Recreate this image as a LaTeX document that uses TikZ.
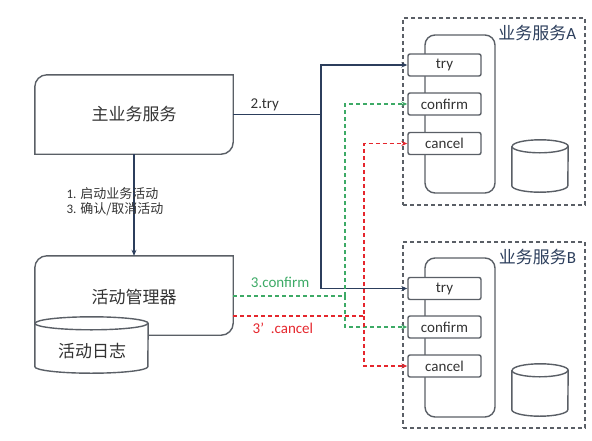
\documentclass[tikz,border=0pt]{standalone}
\usepackage{fontspec}
\setmainfont{Carlito}
\newfontfamily\cjk{Noto Sans CJK SC}
\usetikzlibrary{positioning, arrows.meta, shapes.geometric, calc}
\definecolor{linegray}{HTML}{5A5F66}
\definecolor{navy}{HTML}{2C3E5C}
\definecolor{okgreen}{HTML}{3DAA66}
\definecolor{errred}{HTML}{E5262D}
\definecolor{txt}{HTML}{333333}
\tikzset{
  edge/.style   ={draw=linegray, line width=1.4pt},
  bigbox/.style ={minimum width=198pt, minimum height=79pt, inner sep=0pt,
                  font=\cjk\fontsize{17}{20}\selectfont, text=txt},
  db/.style     ={inner sep=0pt, text=txt},
  zone/.style   ={draw=linegray, dash pattern=on 4pt off 3pt, line width=1.5pt,
                  minimum width=182pt, minimum height=187pt},
  svc/.style    ={edge, rounded corners=10pt,
                  minimum width=70pt, minimum height=158pt},
  op/.style     ={edge, rounded corners=2pt, fill=white,
                  minimum width=73pt, minimum height=22pt, inner sep=0pt,
                  font=\fontsize{15}{17}\selectfont, text=txt},
  flow/.style   ={-{Stealth[length=6pt,width=5pt]}, draw=navy, line width=1.3pt},
  okflow/.style ={flow, draw=okgreen, dash pattern=on 4pt off 3pt},
  noflow/.style ={flow, draw=errred, dash pattern=on 4pt off 3pt},
  lbl/.style    ={font=\fontsize{15}{17}\selectfont},
}
% box with two rounded corners (top left, bottom right)
\newcommand\halfround[1]{%
  \draw[edge]
    ([yshift=-12pt]#1.north west) arc[start angle=180, end angle=90, radius=12pt]
    -- (#1.north east) -- ([yshift=12pt]#1.south east)
    arc[start angle=0, end angle=-90, radius=12pt] -- (#1.south west) -- cycle;}
% cylinder round a node: name, x radius, y radius of the ends
\newcommand\dbdraw[3]{%
  \draw[edge, fill=white]
    ([yshift=-#3]#1.north west) -- ([yshift=#3]#1.south west)
    arc[start angle=180, end angle=360, x radius=#2, y radius=#3]
    -- ([yshift=-#3]#1.north east)
    arc[start angle=0, end angle=180, x radius=#2, y radius=#3];
  \draw[edge] ([yshift=-#3]#1.north west)
    arc[start angle=180, end angle=360, x radius=#2, y radius=#3];}

\begin{document}
\begin{tikzpicture}[x=1pt, y=1pt]
  \useasboundingbox (0,0) rectangle (592,-440);

  % left side
  \node[bigbox] (main) at (134,-114.5) {主业务服务};
  \halfround{main}
  \node[bigbox] (mgr) at (134,-295.5) {};
  \halfround{mgr}
  \node[bigbox] (mgrtext) at (134,-297) {活动管理器};
  \node[db, minimum width=113pt, minimum height=56pt] (log) at (91.5,-345) {};
  \dbdraw{log}{56.5pt}{6.5pt}
  \node[font=\cjk\fontsize{17}{20}\selectfont, text=txt] (logtext) at (92,-351) {活动日志};

  % service A
  \node[zone] (zoneA) at (494,-111.5) {};
  \node[anchor=north east, text=navy, font=\fontsize{17}{20}\selectfont]
    (nameA) at ([xshift=-6pt,yshift=-4pt]zoneA.north east) {{\cjk 业务服务}A};
  \node[svc] (svcA) at (460,-114) {};
  \node[op] (tryA) at (444.5,-65) {try};
  \node[op] (confA) at (444.5,-104) {confirm};
  \node[op] (cancelA) at (444.5,-143.5) {cancel};
  \node[db, minimum width=56pt, minimum height=52pt] (dbA) at (540,-166) {};
  \dbdraw{dbA}{28pt}{6.5pt}

  % service B
  \node[zone, minimum height=186pt] (zoneB) at (494,-335) {};
  \node[anchor=north east, text=navy, font=\fontsize{17}{20}\selectfont]
    (nameB) at ([xshift=-6pt,yshift=-4pt]zoneB.north east) {{\cjk 业务服务}B};
  \node[svc, minimum height=159pt] (svcB) at (460,-337.5) {};
  \node[op] (tryB) at (444.5,-288.5) {try};
  \node[op] (confB) at (444.5,-327) {confirm};
  \node[op] (cancelB) at (444.5,-366) {cancel};
  \node[db, minimum width=56pt, minimum height=52pt] (dbB) at (540,-390) {};
  \dbdraw{dbB}{28pt}{6.5pt}

  % connectors
  \coordinate (trysplit) at (321,-114.5);
  \coordinate (cfsplit) at (345,-296);
  \coordinate (cnsplit) at (364,-316);
  \draw[flow] (main.south) -- (mgr.north);
  \node[anchor=west, align=left, text=txt, font=\fontsize{13}{14.5}\selectfont] (steps)
    at (63,-201.5) {1. {\cjk 启动业务活动}\\3. {\cjk 确认/取消活动}};
  \draw[flow] (main.east) -- node[lbl, above, text=txt, pos=0.36]{2.try} (trysplit) |- (tryA.west);
  \draw[flow] (trysplit) |- (tryB.west);
  \draw[okflow] (mgr.east |- cfsplit) -- node[lbl, above=4pt, text=okgreen, pos=0.42]{3.confirm} (cfsplit) |- (confA.west);
  \draw[okflow] (cfsplit) |- (confB.west);
  \draw[noflow] (mgr.east |- cnsplit) -- node[lbl, below=3pt, text=errred, pos=0.38]{3’\ \ .cancel} (cnsplit) |- (cancelA.west);
  \draw[noflow] (cnsplit) |- (cancelB.west);
\end{tikzpicture}
\end{document}
